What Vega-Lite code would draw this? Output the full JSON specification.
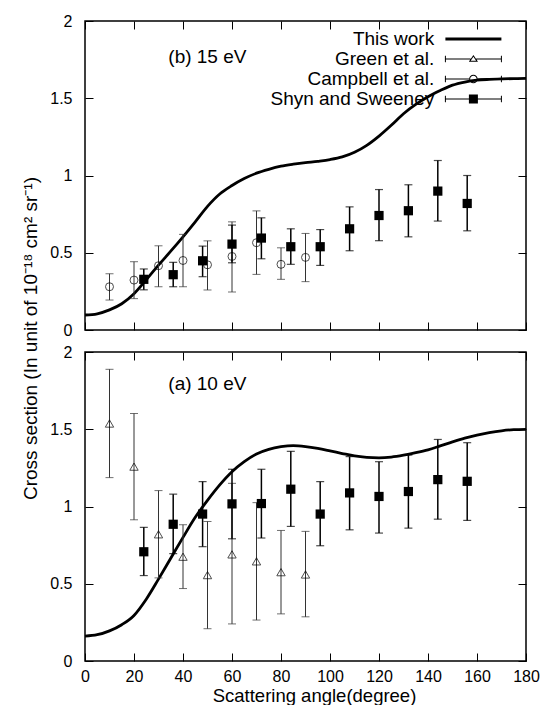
{
  "$schema": "https://vega.github.io/schema/vega-lite/v6.json",
  "padding": {"left": 20, "top": 12, "right": 10, "bottom": 0},
  "background": "white",
  "config": {
    "view": {"stroke": "#000", "strokeWidth": 1.5},
    "font": "Liberation Sans",
    "axis": {"domain": false, "grid": false, "tickColor": "#000", "tickSize": -8, "tickWidth": 1, "labelFont": "Liberation Sans", "labelFontSize": 16, "labelColor": "#000", "labelFlush": false, "labelOverlap": false, "labelPadding": 15, "titleFont": "Liberation Sans", "titleFontSize": 18.5, "titleFontWeight": "normal", "titleColor": "#000"},
    "axisLeft": {"labelPadding": 21, "titleFontSize": 19},
    "axisRight": {"labelPadding": 21},
    "legend": {"labelFont": "Liberation Sans", "labelFontSize": 19, "labelColor": "#000", "labelLimit": 400}
  },
  "datasets": {
    "theory": [
      {"energy": 15, "angle": 0, "cs": 0.097}, {"energy": 15, "angle": 5, "cs": 0.105}, {"energy": 15, "angle": 10, "cs": 0.13}, {"energy": 15, "angle": 15, "cs": 0.17}, {"energy": 15, "angle": 20, "cs": 0.235}, {"energy": 15, "angle": 25, "cs": 0.325}, {"energy": 15, "angle": 30, "cs": 0.42}, {"energy": 15, "angle": 35, "cs": 0.51}, {"energy": 15, "angle": 40, "cs": 0.603}, {"energy": 15, "angle": 45, "cs": 0.7}, {"energy": 15, "angle": 50, "cs": 0.8}, {"energy": 15, "angle": 55, "cs": 0.88}, {"energy": 15, "angle": 60, "cs": 0.935}, {"energy": 15, "angle": 65, "cs": 0.98}, {"energy": 15, "angle": 70, "cs": 1.015}, {"energy": 15, "angle": 75, "cs": 1.04}, {"energy": 15, "angle": 80, "cs": 1.06}, {"energy": 15, "angle": 85, "cs": 1.073}, {"energy": 15, "angle": 90, "cs": 1.083}, {"energy": 15, "angle": 95, "cs": 1.092}, {"energy": 15, "angle": 100, "cs": 1.103}, {"energy": 15, "angle": 105, "cs": 1.12}, {"energy": 15, "angle": 110, "cs": 1.15}, {"energy": 15, "angle": 115, "cs": 1.195}, {"energy": 15, "angle": 120, "cs": 1.255}, {"energy": 15, "angle": 125, "cs": 1.325}, {"energy": 15, "angle": 130, "cs": 1.4}, {"energy": 15, "angle": 135, "cs": 1.46}, {"energy": 15, "angle": 140, "cs": 1.51}, {"energy": 15, "angle": 145, "cs": 1.55}, {"energy": 15, "angle": 150, "cs": 1.585}, {"energy": 15, "angle": 155, "cs": 1.605}, {"energy": 15, "angle": 160, "cs": 1.617}, {"energy": 15, "angle": 165, "cs": 1.622}, {"energy": 15, "angle": 170, "cs": 1.625}, {"energy": 15, "angle": 175, "cs": 1.627}, {"energy": 15, "angle": 180, "cs": 1.628},
      {"energy": 10, "angle": 0, "cs": 0.161}, {"energy": 10, "angle": 5, "cs": 0.17}, {"energy": 10, "angle": 10, "cs": 0.195}, {"energy": 10, "angle": 15, "cs": 0.235}, {"energy": 10, "angle": 20, "cs": 0.295}, {"energy": 10, "angle": 25, "cs": 0.4}, {"energy": 10, "angle": 30, "cs": 0.53}, {"energy": 10, "angle": 35, "cs": 0.665}, {"energy": 10, "angle": 40, "cs": 0.8}, {"energy": 10, "angle": 45, "cs": 0.93}, {"energy": 10, "angle": 50, "cs": 1.04}, {"energy": 10, "angle": 55, "cs": 1.14}, {"energy": 10, "angle": 60, "cs": 1.225}, {"energy": 10, "angle": 65, "cs": 1.29}, {"energy": 10, "angle": 70, "cs": 1.34}, {"energy": 10, "angle": 75, "cs": 1.37}, {"energy": 10, "angle": 80, "cs": 1.387}, {"energy": 10, "angle": 85, "cs": 1.394}, {"energy": 10, "angle": 90, "cs": 1.388}, {"energy": 10, "angle": 95, "cs": 1.376}, {"energy": 10, "angle": 100, "cs": 1.36}, {"energy": 10, "angle": 105, "cs": 1.343}, {"energy": 10, "angle": 110, "cs": 1.327}, {"energy": 10, "angle": 115, "cs": 1.318}, {"energy": 10, "angle": 120, "cs": 1.315}, {"energy": 10, "angle": 125, "cs": 1.32}, {"energy": 10, "angle": 130, "cs": 1.332}, {"energy": 10, "angle": 135, "cs": 1.348}, {"energy": 10, "angle": 140, "cs": 1.367}, {"energy": 10, "angle": 145, "cs": 1.392}, {"energy": 10, "angle": 150, "cs": 1.418}, {"energy": 10, "angle": 155, "cs": 1.442}, {"energy": 10, "angle": 160, "cs": 1.462}, {"energy": 10, "angle": 165, "cs": 1.478}, {"energy": 10, "angle": 170, "cs": 1.49}, {"energy": 10, "angle": 175, "cs": 1.497}, {"energy": 10, "angle": 180, "cs": 1.499}
    ],
    "campbell": [
      {"angle": 10, "cs": 0.28, "lo": 0.194, "hi": 0.364},
      {"angle": 20, "cs": 0.323, "lo": 0.203, "hi": 0.442},
      {"angle": 30, "cs": 0.416, "lo": 0.28, "hi": 0.545},
      {"angle": 40, "cs": 0.45, "lo": 0.28, "hi": 0.619},
      {"angle": 50, "cs": 0.422, "lo": 0.259, "hi": 0.577},
      {"angle": 60, "cs": 0.476, "lo": 0.246, "hi": 0.7},
      {"angle": 70, "cs": 0.565, "lo": 0.36, "hi": 0.771},
      {"angle": 80, "cs": 0.425, "lo": 0.328, "hi": 0.532},
      {"angle": 90, "cs": 0.47, "lo": 0.313, "hi": 0.625}
    ],
    "green": [
      {"angle": 10, "cs": 1.537, "lo": 1.187, "hi": 1.888},
      {"angle": 20, "cs": 1.258, "lo": 0.914, "hi": 1.602},
      {"angle": 30, "cs": 0.82, "lo": 0.538, "hi": 1.103},
      {"angle": 40, "cs": 0.675, "lo": 0.469, "hi": 0.882},
      {"angle": 50, "cs": 0.556, "lo": 0.209, "hi": 0.903},
      {"angle": 60, "cs": 0.69, "lo": 0.24, "hi": 1.15},
      {"angle": 70, "cs": 0.645, "lo": 0.265, "hi": 1.025},
      {"angle": 80, "cs": 0.575, "lo": 0.305, "hi": 0.845},
      {"angle": 90, "cs": 0.56, "lo": 0.286, "hi": 0.839}
    ],
    "shyn": [
      {"energy": 15, "angle": 24, "cs": 0.328, "lo": 0.26, "hi": 0.395},
      {"energy": 15, "angle": 36, "cs": 0.358, "lo": 0.28, "hi": 0.438},
      {"energy": 15, "angle": 48, "cs": 0.448, "lo": 0.345, "hi": 0.543},
      {"energy": 15, "angle": 60, "cs": 0.556, "lo": 0.435, "hi": 0.679},
      {"energy": 15, "angle": 72, "cs": 0.595, "lo": 0.461, "hi": 0.726},
      {"energy": 15, "angle": 84, "cs": 0.539, "lo": 0.425, "hi": 0.655},
      {"energy": 15, "angle": 96, "cs": 0.539, "lo": 0.418, "hi": 0.65},
      {"energy": 15, "angle": 108, "cs": 0.655, "lo": 0.513, "hi": 0.797},
      {"energy": 15, "angle": 120, "cs": 0.741, "lo": 0.578, "hi": 0.909},
      {"energy": 15, "angle": 132, "cs": 0.772, "lo": 0.603, "hi": 0.94},
      {"energy": 15, "angle": 144, "cs": 0.899, "lo": 0.705, "hi": 1.097},
      {"energy": 15, "angle": 156, "cs": 0.819, "lo": 0.642, "hi": 1.0},
      {"energy": 10, "angle": 24, "cs": 0.707, "lo": 0.553, "hi": 0.865},
      {"energy": 10, "angle": 36, "cs": 0.885, "lo": 0.695, "hi": 1.08},
      {"energy": 10, "angle": 48, "cs": 0.951, "lo": 0.74, "hi": 1.161},
      {"energy": 10, "angle": 60, "cs": 1.017, "lo": 0.791, "hi": 1.241},
      {"energy": 10, "angle": 72, "cs": 1.019, "lo": 0.796, "hi": 1.241},
      {"energy": 10, "angle": 84, "cs": 1.112, "lo": 0.871, "hi": 1.357},
      {"energy": 10, "angle": 96, "cs": 0.951, "lo": 0.746, "hi": 1.161},
      {"energy": 10, "angle": 108, "cs": 1.088, "lo": 0.849, "hi": 1.323},
      {"energy": 10, "angle": 120, "cs": 1.065, "lo": 0.828, "hi": 1.29},
      {"energy": 10, "angle": 132, "cs": 1.097, "lo": 0.86, "hi": 1.333},
      {"energy": 10, "angle": 144, "cs": 1.174, "lo": 0.918, "hi": 1.434},
      {"energy": 10, "angle": 156, "cs": 1.163, "lo": 0.91, "hi": 1.413}
    ],
    "series": [
      {"series": "This work"}, {"series": "Green et al."}, {"series": "Campbell et al."}, {"series": "Shyn and Sweeney"}
    ],
    "labels": [
      {"energy": 15, "label": "(b)  15 eV"},
      {"energy": 10, "label": "(a)  10 eV"}
    ]
  },
  "spacing": 22,
  "bounds": "flush",
  "vconcat": [
    {
      "width": 441,
      "height": 309,
      "layer": [
        {
          "data": {"name": "theory"},
          "transform": [{"filter": "datum.energy == 15"}],
          "mark": {"type": "line", "color": "#000", "strokeWidth": 2.8, "interpolate": "monotone"},
          "encoding": {
            "x": {"field": "angle", "type": "quantitative", "scale": {"domain": [0, 180], "nice": false}, "axis": {"orient": "bottom", "values": [0, 20, 40, 60, 80, 100, 120, 140, 160, 180], "labels": false, "title": null}},
            "y": {"field": "cs", "type": "quantitative", "scale": {"domain": [0, 2], "nice": false}, "axis": {"orient": "left", "values": [0, 0.5, 1, 1.5, 2], "format": "~g", "title": null}}
          }
        },
        {
          "data": {"name": "campbell"},
          "mark": {"type": "errorbar", "color": "#333", "thickness": 1, "ticks": {"size": 8, "thickness": 1, "color": "#333"}},
          "encoding": {
            "x": {"field": "angle", "type": "quantitative", "scale": {"domain": [0, 180], "nice": false}, "axis": {"orient": "top", "values": [0, 20, 40, 60, 80, 100, 120, 140, 160, 180], "labels": false, "title": null}},
            "y": {"field": "lo", "type": "quantitative", "scale": {"domain": [0, 2], "nice": false}, "axis": {"orient": "right", "values": [0, 0.5, 1, 1.5, 2], "labels": false, "title": null}},
            "y2": {"field": "hi"}
          }
        },
        {
          "data": {"name": "campbell"},
          "mark": {"type": "point", "shape": "circle", "filled": false, "color": "#000", "size": 64, "strokeWidth": 1},
          "encoding": {
            "x": {"field": "angle", "type": "quantitative", "scale": {"domain": [0, 180], "nice": false}, "axis": null},
            "y": {"field": "cs", "type": "quantitative", "scale": {"domain": [0, 2], "nice": false}, "axis": null}
          }
        },
        {
          "data": {"name": "shyn"},
          "transform": [{"filter": "datum.energy == 15"}],
          "mark": {"type": "errorbar", "color": "#000", "thickness": 1.5, "ticks": {"size": 8, "thickness": 1.2, "color": "#000"}},
          "encoding": {
            "x": {"field": "angle", "type": "quantitative", "scale": {"domain": [0, 180], "nice": false}, "axis": null},
            "y": {"field": "lo", "type": "quantitative", "scale": {"domain": [0, 2], "nice": false}, "axis": null},
            "y2": {"field": "hi"}
          }
        },
        {
          "data": {"name": "shyn"},
          "transform": [{"filter": "datum.energy == 15"}],
          "mark": {"type": "point", "shape": "square", "filled": true, "color": "#000", "size": 85, "opacity": 1},
          "encoding": {
            "x": {"field": "angle", "type": "quantitative", "scale": {"domain": [0, 180], "nice": false}, "axis": null},
            "y": {"field": "cs", "type": "quantitative", "scale": {"domain": [0, 2], "nice": false}, "axis": null}
          }
        },
        {
          "data": {"name": "labels"},
          "transform": [{"filter": "datum.energy == 15"}],
          "mark": {"type": "text", "align": "left", "baseline": "middle", "fontSize": 19, "font": "Liberation Sans", "color": "#000"},
          "encoding": {
            "x": {"datum": 34, "type": "quantitative", "axis": null},
            "y": {"datum": 1.77, "type": "quantitative", "axis": null},
            "text": {"field": "label"}
          }
        },
        {
          "data": {"name": "series"},
          "transform": [{"filter": "false"}],
          "mark": {"type": "point", "filled": true, "color": "#000", "strokeWidth": 0, "size": 100, "opacity": 1},
          "encoding": {
            "x": {"field": "angle", "type": "quantitative", "axis": null},
            "y": {"field": "cs", "type": "quantitative", "axis": null},
            "shape": {
              "field": "series", "type": "nominal",
              "scale": {"domain": ["This work", "Green et al.", "Campbell et al.", "Shyn and Sweeney"],
                "range": [
                  "M-5.6,-0.3H5.6V0.3H-5.6Z",
                  "M-5.7,-0.66H-5.5V0.66H-5.7Z M5.5,-0.66H5.7V0.66H5.5Z M-5.6,-0.1H-0.55V0.1H-5.6Z M0.55,-0.1H5.6V0.1H0.55Z M0,-0.8L0.92,0.55L-0.92,0.55Z M0,-0.44L-0.54,0.35L0.54,0.35Z",
                  "M-5.7,-0.66H-5.5V0.66H-5.7Z M5.5,-0.66H5.7V0.66H5.5Z M-5.6,-0.1H-0.85V0.1H-5.6Z M0.85,-0.1H5.6V0.1H0.85Z M-0.85,0A0.85,0.85 0 1,0 0.85,0A0.85,0.85 0 1,0 -0.85,0Z M-0.65,0A0.65,0.65 0 1,1 0.65,0A0.65,0.65 0 1,1 -0.65,0Z",
                  "M-5.7,-0.66H-5.5V0.66H-5.7Z M5.5,-0.66H5.7V0.66H5.5Z M-5.6,-0.12H5.6V0.12H-5.6Z M-0.9,-0.9H0.9V0.9H-0.9Z"
                ]},
              "legend": {"title": null, "orient": "none", "legendX": 378.9, "legendY": 8.5, "labelAlign": "right", "labelOffset": -48.7, "labelLimit": 400, "symbolSize": 100, "rowPadding": 0, "padding": 0, "symbolFillColor": "#000", "symbolStrokeWidth": 0}
            }
          }
        }
      ],
      "resolve": {"axis": {"x": "independent", "y": "independent"}}
    },
    {
      "width": 441,
      "height": 309,
      "layer": [
        {
          "data": {"name": "theory"},
          "transform": [{"filter": "datum.energy == 10"}],
          "mark": {"type": "line", "color": "#000", "strokeWidth": 2.8, "interpolate": "monotone"},
          "encoding": {
            "x": {"field": "angle", "type": "quantitative", "scale": {"domain": [0, 180], "nice": false}, "axis": {"orient": "bottom", "values": [0, 20, 40, 60, 80, 100, 120, 140, 160, 180], "title": "Scattering angle(degree)", "titlePadding": 2, "titleX": 229, "titleAlign": "center"}},
            "y": {"field": "cs", "type": "quantitative", "scale": {"domain": [0, 2], "nice": false}, "axis": {"orient": "left", "values": [0, 0.5, 1, 1.5, 2], "format": "~g", "title": "Cross section (In unit of 10⁻¹⁸ cm² sr⁻¹)", "titleX": -45, "titleY": -14, "titleAlign": "center", "titleBaseline": "bottom"}}
          }
        },
        {
          "data": {"name": "green"},
          "mark": {"type": "errorbar", "color": "#333", "thickness": 1, "ticks": {"size": 8, "thickness": 1, "color": "#333"}},
          "encoding": {
            "x": {"field": "angle", "type": "quantitative", "scale": {"domain": [0, 180], "nice": false}, "axis": {"orient": "top", "values": [0, 20, 40, 60, 80, 100, 120, 140, 160, 180], "labels": false, "title": null}},
            "y": {"field": "lo", "type": "quantitative", "scale": {"domain": [0, 2], "nice": false}, "axis": {"orient": "right", "values": [0, 0.5, 1, 1.5, 2], "labels": false, "title": null}},
            "y2": {"field": "hi"}
          }
        },
        {
          "data": {"name": "green"},
          "mark": {"type": "point", "shape": "triangle-up", "filled": false, "color": "#000", "size": 70, "strokeWidth": 1},
          "encoding": {
            "x": {"field": "angle", "type": "quantitative", "scale": {"domain": [0, 180], "nice": false}, "axis": null},
            "y": {"field": "cs", "type": "quantitative", "scale": {"domain": [0, 2], "nice": false}, "axis": null}
          }
        },
        {
          "data": {"name": "shyn"},
          "transform": [{"filter": "datum.energy == 10"}],
          "mark": {"type": "errorbar", "color": "#000", "thickness": 1.5, "ticks": {"size": 8, "thickness": 1.2, "color": "#000"}},
          "encoding": {
            "x": {"field": "angle", "type": "quantitative", "scale": {"domain": [0, 180], "nice": false}, "axis": null},
            "y": {"field": "lo", "type": "quantitative", "scale": {"domain": [0, 2], "nice": false}, "axis": null},
            "y2": {"field": "hi"}
          }
        },
        {
          "data": {"name": "shyn"},
          "transform": [{"filter": "datum.energy == 10"}],
          "mark": {"type": "point", "shape": "square", "filled": true, "color": "#000", "size": 85, "opacity": 1},
          "encoding": {
            "x": {"field": "angle", "type": "quantitative", "scale": {"domain": [0, 180], "nice": false}, "axis": null},
            "y": {"field": "cs", "type": "quantitative", "scale": {"domain": [0, 2], "nice": false}, "axis": null}
          }
        },
        {
          "data": {"name": "labels"},
          "transform": [{"filter": "datum.energy == 10"}],
          "mark": {"type": "text", "align": "left", "baseline": "middle", "fontSize": 19, "font": "Liberation Sans", "color": "#000"},
          "encoding": {
            "x": {"datum": 34, "type": "quantitative", "axis": null},
            "y": {"datum": 1.79, "type": "quantitative", "axis": null},
            "text": {"field": "label"}
          }
        }
      ],
      "resolve": {"axis": {"x": "independent", "y": "independent"}}
    }
  ]
}
